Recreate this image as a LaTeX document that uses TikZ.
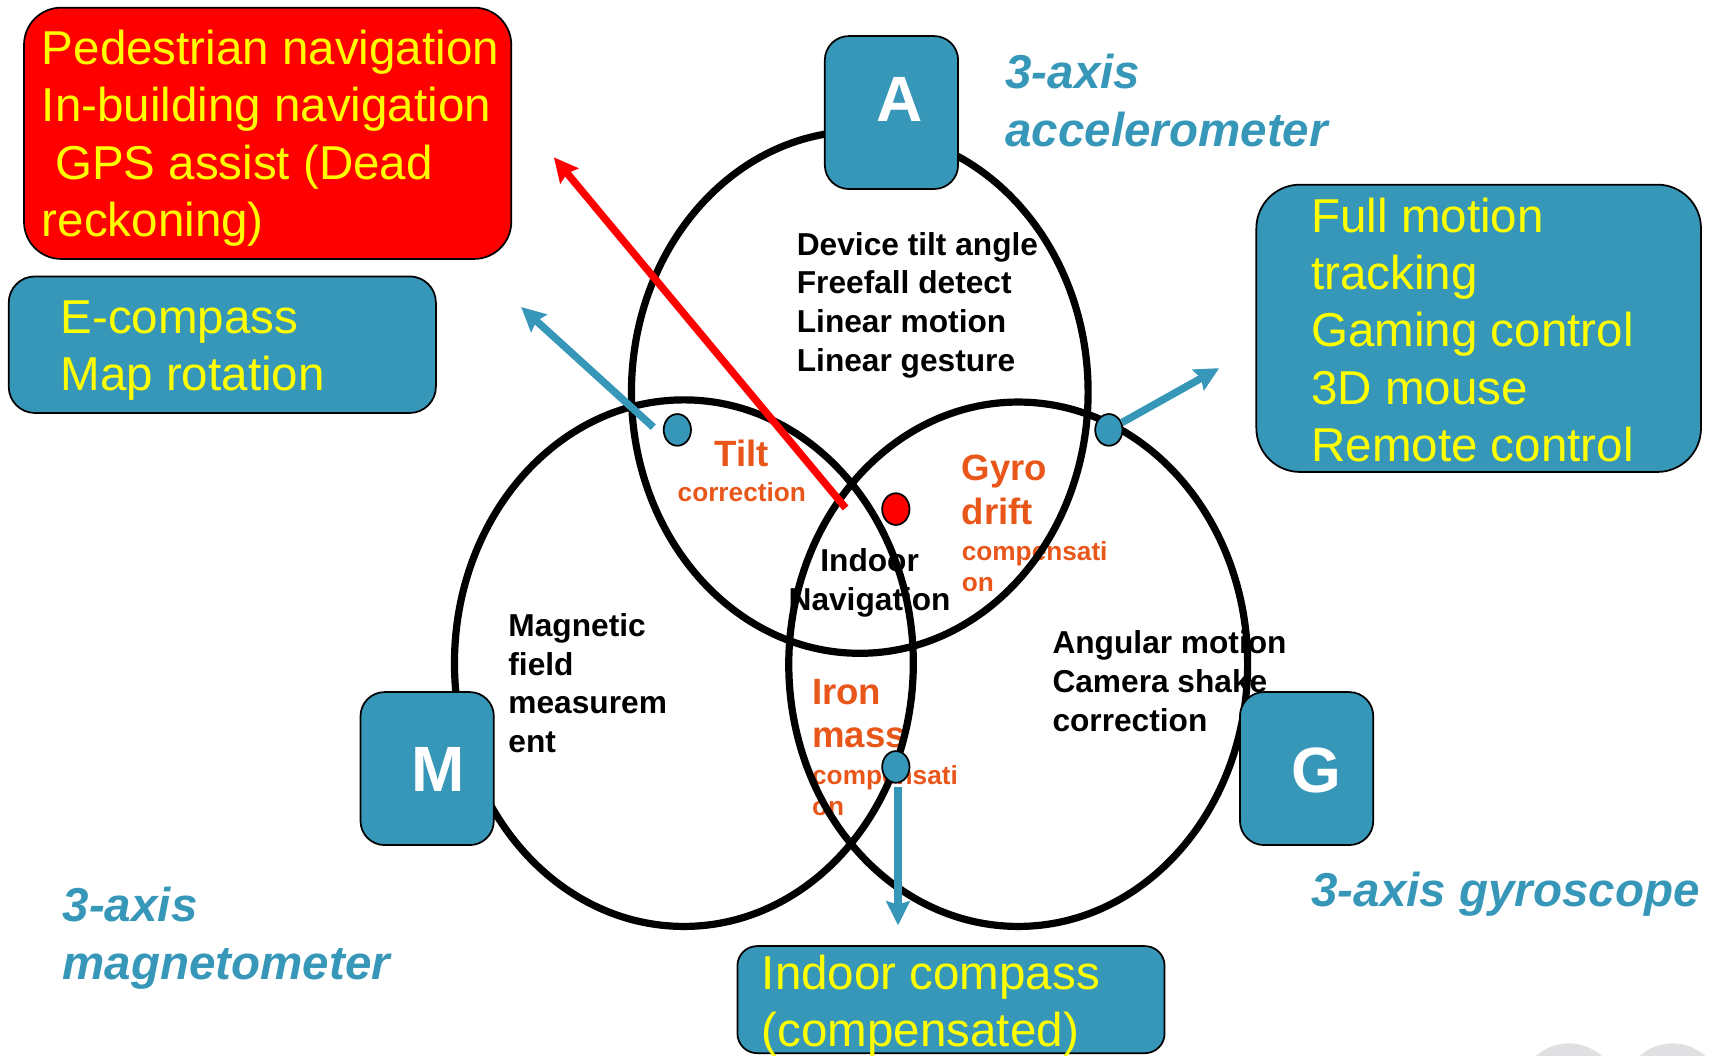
\documentclass[tikz,border=0pt]{standalone}
\usepackage{fontspec}
\setmainfont{Liberation Sans}
\usetikzlibrary{shapes.geometric,arrows.meta}
\definecolor{sensorblue}{RGB}{55,151,184}
\definecolor{noteorange}{RGB}{232,86,26}
\definecolor{appyellow}{RGB}{255,255,0}
\definecolor{softgrey}{RGB}{224,224,226}

\begin{document}
\begin{tikzpicture}[x=0.5pt,y=-0.5pt,
  appbox/.style={draw=black, line width=0.8pt, inner sep=0pt},
  apptext/.style={text=appyellow, align=left, inner sep=0pt, anchor=north west,
    font=\fontsize{21.75}{26.25}\selectfont},
  sensorbox/.style={draw=black, line width=0.8pt, fill=sensorblue, rounded corners=11pt,
    minimum width=61pt, minimum height=70pt, inner sep=0pt},
  sensorletter/.style={text=white, font=\bfseries\fontsize{29.3}{30}\selectfont, inner sep=0pt},
  venn/.style={ellipse, draw=black, line width=3.3pt, inner sep=0pt},
  effect/.style={font=\bfseries\fontsize{14.5}{17.75}\selectfont, align=left, inner sep=0pt},
  fusionbig/.style={text=noteorange, font=\bfseries\fontsize{16.75}{20}\selectfont, align=left, inner sep=0pt},
  fusionsmall/.style={text=noteorange, font=\bfseries\fontsize{12}{14.5}\selectfont, align=left, inner sep=0pt},
  axislabel/.style={text=sensorblue, font=\bfseries\itshape\fontsize{21.75}{26.5}\selectfont,
    align=left, inner sep=0pt, anchor=north west},
  sensordot/.style={ellipse, draw=black, line width=0.8pt, minimum width=12.5pt,
    minimum height=14.5pt, inner sep=0pt},
  pointer/.style={line width=3.4pt, -{Stealth[length=11pt,width=10.7pt,inset=1.5pt]}}
]
\useasboundingbox (0,0) rectangle (1568,966);

% faint round marks at the lower right edge
\begin{scope}
  \clip (0,0) rectangle (1568,966);
  \fill[softgrey] (1436,1000) circle [radius=22.5pt];
  \fill[softgrey] (1531,1000) circle [radius=22.5pt];
\end{scope}

% what each sensor measures, and what two of them give together
\node[effect, anchor=north west] (accfx) at (729,212)
  {Device tilt angle\\Freefall detect\\Linear motion\\Linear gesture};
\node[effect, anchor=north west] (magfx) at (465,561) {Magnetic\\field\\measurem\\ent};
\node[effect, anchor=north west] (gyrofx) at (963,577) {Angular motion\\Camera shake\\correction};
\node[effect, anchor=north, align=center] (indoornav) at (796,502) {Indoor\\Navigation};

\node[fusionbig, anchor=base] (tilt) at (679,427) {Tilt};
\node[fusionsmall, anchor=base] (tiltsub) at (679,459) {correction};
\node[fusionbig, anchor=north west] (gyrodrift) at (880,416) {Gyro\\drift};
\node[fusionsmall, anchor=north west] (gyrosub) at (880,495) {compensati\\on};
\node[fusionbig, anchor=north west] (ironmass) at (743,621) {Iron\\mass};
\node[fusionsmall, anchor=north west] (ironsub) at (743,700) {compensati\\on};

% the three sensor sets
\node[venn, minimum width=209pt, minimum height=239pt] (accset) at (787,359) {};
\node[venn, minimum width=210pt, minimum height=241pt] (magset) at (626,607) {};
\node[venn, minimum width=210pt, minimum height=240pt] (gyroset) at (932,608) {};

% sensor tags
\node[sensorbox, label={[sensorletter, xshift=3.5pt, yshift=6.2pt]center:A}] (accbox) at (816,103) {};
\node[sensorbox, label={[sensorletter, xshift=5pt, yshift=-0.6pt]center:M}] (magbox) at (391,703.5) {};
\node[sensorbox, label={[sensorletter, xshift=4.5pt, yshift=-1pt]center:G}] (gyrobox) at (1196,703.5) {};

\node[axislabel] (acclabel) at (920,49) {3-axis\\accelerometer};
\node[axislabel] (maglabel) at (57,812) {3-axis\\magnetometer};
\node[axislabel] (gyrolabel) at (1200,797.5) {3-axis gyroscope};

% applications
\node[appbox, fill=red, rounded corners=17pt, minimum width=223pt, minimum height=115pt] (pedbox) at (245,122) {};
\node[apptext] (pedtext) at (38,27)
  {Pedestrian navigation\\In-building navigation\\\hspace*{6pt}GPS assist (Dead\\reckoning)};
\node[appbox, fill=sensorblue, rounded corners=12pt, minimum width=195.5pt, minimum height=62.5pt] (compassbox) at (203.5,315.5) {};
\node[apptext] (compasstext) at (55,275) {E-compass\\Map rotation};
\node[appbox, fill=sensorblue, rounded corners=20pt, minimum width=203.5pt, minimum height=131.5pt] (motionbox) at (1353.5,300.5) {};
\node[apptext] (motiontext) at (1200,180.5)
  {Full motion\\tracking\\Gaming control\\3D mouse\\Remote control};
\node[appbox, fill=sensorblue, rounded corners=9pt, minimum width=195.5pt, minimum height=49pt] (indoorbox) at (870.5,915) {};
\node[apptext] (indoortext) at (697,873.5) {Indoor compass\\(compensated)};

% markers in the overlaps
\node[sensordot, fill=sensorblue] (dotTilt) at (620,393.5) {};
\node[sensordot, fill=red] (dotNav) at (820,466) {};
\node[sensordot, fill=sensorblue] (dotGyro) at (1015,393.5) {};
\node[sensordot, fill=sensorblue] (dotIron) at (820,702) {};

% pointers to the applications
\coordinate (tailCompass) at (598,391);
\coordinate (tipCompass) at (477,281);
\coordinate (tailNav) at (774,465);
\coordinate (tipNav) at (507,144);
\coordinate (tipMotion) at (1116,337);
\coordinate (tailIron) at (822,720);
\coordinate (tipIron) at (822,847);

\draw[pointer, sensorblue] (tailCompass) -- (tipCompass);
\draw[pointer, red] (tailNav) -- (tipNav);
\draw[pointer, sensorblue] (dotGyro) -- (tipMotion);
\draw[pointer, sensorblue] (tailIron) -- (tipIron);
\end{tikzpicture}
\end{document}
